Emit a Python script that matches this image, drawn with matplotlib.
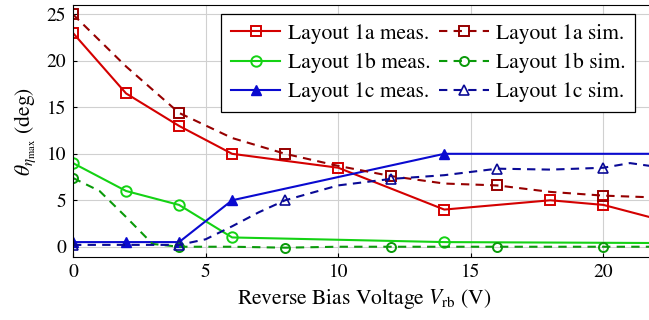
import matplotlib
matplotlib.use('Agg')
import matplotlib.pyplot as plt
import numpy as np

plt.rcParams['font.family'] = 'STIXGeneral'
plt.rcParams['mathtext.fontset'] = 'stix'
plt.rcParams['font.size'] = 15

# measured angles (deg) vs reverse bias (V)
x_1a_meas = [0, 2, 4, 6, 10, 14, 18, 20, 22]
y_1a_meas = [23, 16.5, 13, 10, 8.5, 4, 5, 4.5, 3]
x_1b_meas = [0, 2, 4, 6, 14, 22]
y_1b_meas = [9, 6, 4.5, 1, 0.5, 0.4]
x_1c_meas = [0, 2, 4, 6, 14, 22]
y_1c_meas = [0.5, 0.5, 0.5, 5, 10, 10]

# simulated curves, marker every 4 V
x_1a_sim = [0, 2, 4, 6, 8, 10, 12, 14, 16, 18, 20, 22]
y_1a_sim = [25, 19.4, 14.4, 11.7, 10, 8.7, 7.6, 6.8, 6.6, 5.9, 5.5, 5.3]
x_1b_sim = [0, 1, 2, 3, 4, 6, 8, 10, 12, 14, 16, 18, 20, 22]
y_1b_sim = [7.4, 6.0, 3.2, 0.3, 0, 0, -0.1, 0, 0, 0, 0, 0, 0, 0]
x_1c_sim = [0, 2, 4, 5, 6, 7, 8, 10, 12, 14, 16, 18, 20, 21, 22]
y_1c_sim = [0.2, 0.2, 0.2, 0.8, 2.2, 3.7, 5, 6.6, 7.3, 7.7, 8.4, 8.3, 8.5, 9.0, 8.6]

sim_marks = [0, 4, 8, 12, 16, 20]

fig = plt.figure(figsize=(6.49, 3.2), dpi=100)
ax = fig.add_axes([0.1125, 0.197, 0.899, 0.787])

def every(xs):
    return [i for i, v in enumerate(xs) if v in sim_marks]

ax.plot(x_1a_meas, y_1a_meas, '-', color='#d40000', lw=1.5, marker='s', ms=7.5,
        mfc='none', mew=1.4, label='Layout 1a meas.')
ax.plot(x_1b_meas, y_1b_meas, '-', color='#14d214', lw=1.5, marker='o', ms=7.5,
        mfc='none', mew=1.4, label='Layout 1b meas.')
ax.plot(x_1c_meas, y_1c_meas, '-', color='#0a0ad0', lw=1.5, marker='^', ms=7.5,
        mew=1.0, label='Layout 1c meas.')
ax.plot(x_1a_sim, y_1a_sim, '--', color='#960000', lw=1.5, marker='s', ms=7.5,
        mfc='none', mew=1.4, markevery=every(x_1a_sim), dashes=(4, 3),
        label='Layout 1a sim.')
ax.plot(x_1b_sim, y_1b_sim, '--', color='#0a9a0a', lw=1.5, marker='o', ms=6.5,
        mfc='none', mew=1.4, markevery=every(x_1b_sim), dashes=(4, 3),
        label='Layout 1b sim.')
ax.plot(x_1c_sim, y_1c_sim, '--', color='#0a0a96', lw=1.5, marker='^', ms=6.5,
        mfc='none', mew=1.2, markevery=every(x_1c_sim), dashes=(4, 3),
        label='Layout 1c sim.')

ax.set_xlim(0, 22)
ax.set_ylim(-1.1, 26)
ax.set_xticks([0, 5, 10, 15, 20])
ax.set_yticks([0, 5, 10, 15, 20, 25])
ax.grid(True, color='#d0d0d0', lw=0.8)
ax.set_axisbelow(True)
ax.tick_params(direction='in', length=3, labelsize=14, pad=5)
for s in ax.spines.values():
    s.set_linewidth(0.8)

ax.set_xlabel(r'Reverse Bias Voltage $V_{\rm rb}$ (V)', fontsize=15.5, labelpad=4)
ax.set_ylabel(r'$\theta_{\eta_{\max}}$ (deg)', fontsize=15.5, labelpad=6)

leg = ax.legend(ncol=2, loc='upper right', bbox_to_anchor=(0.964, 0.964),
                fontsize=15.5, frameon=True, fancybox=False, framealpha=1,
                edgecolor='black', handlelength=2.3, columnspacing=0.4,
                labelspacing=0.42, borderpad=0.45, handletextpad=0.35,
                borderaxespad=0)
leg.get_frame().set_linewidth(0.9)

plt.savefig('out.png', dpi=100)
